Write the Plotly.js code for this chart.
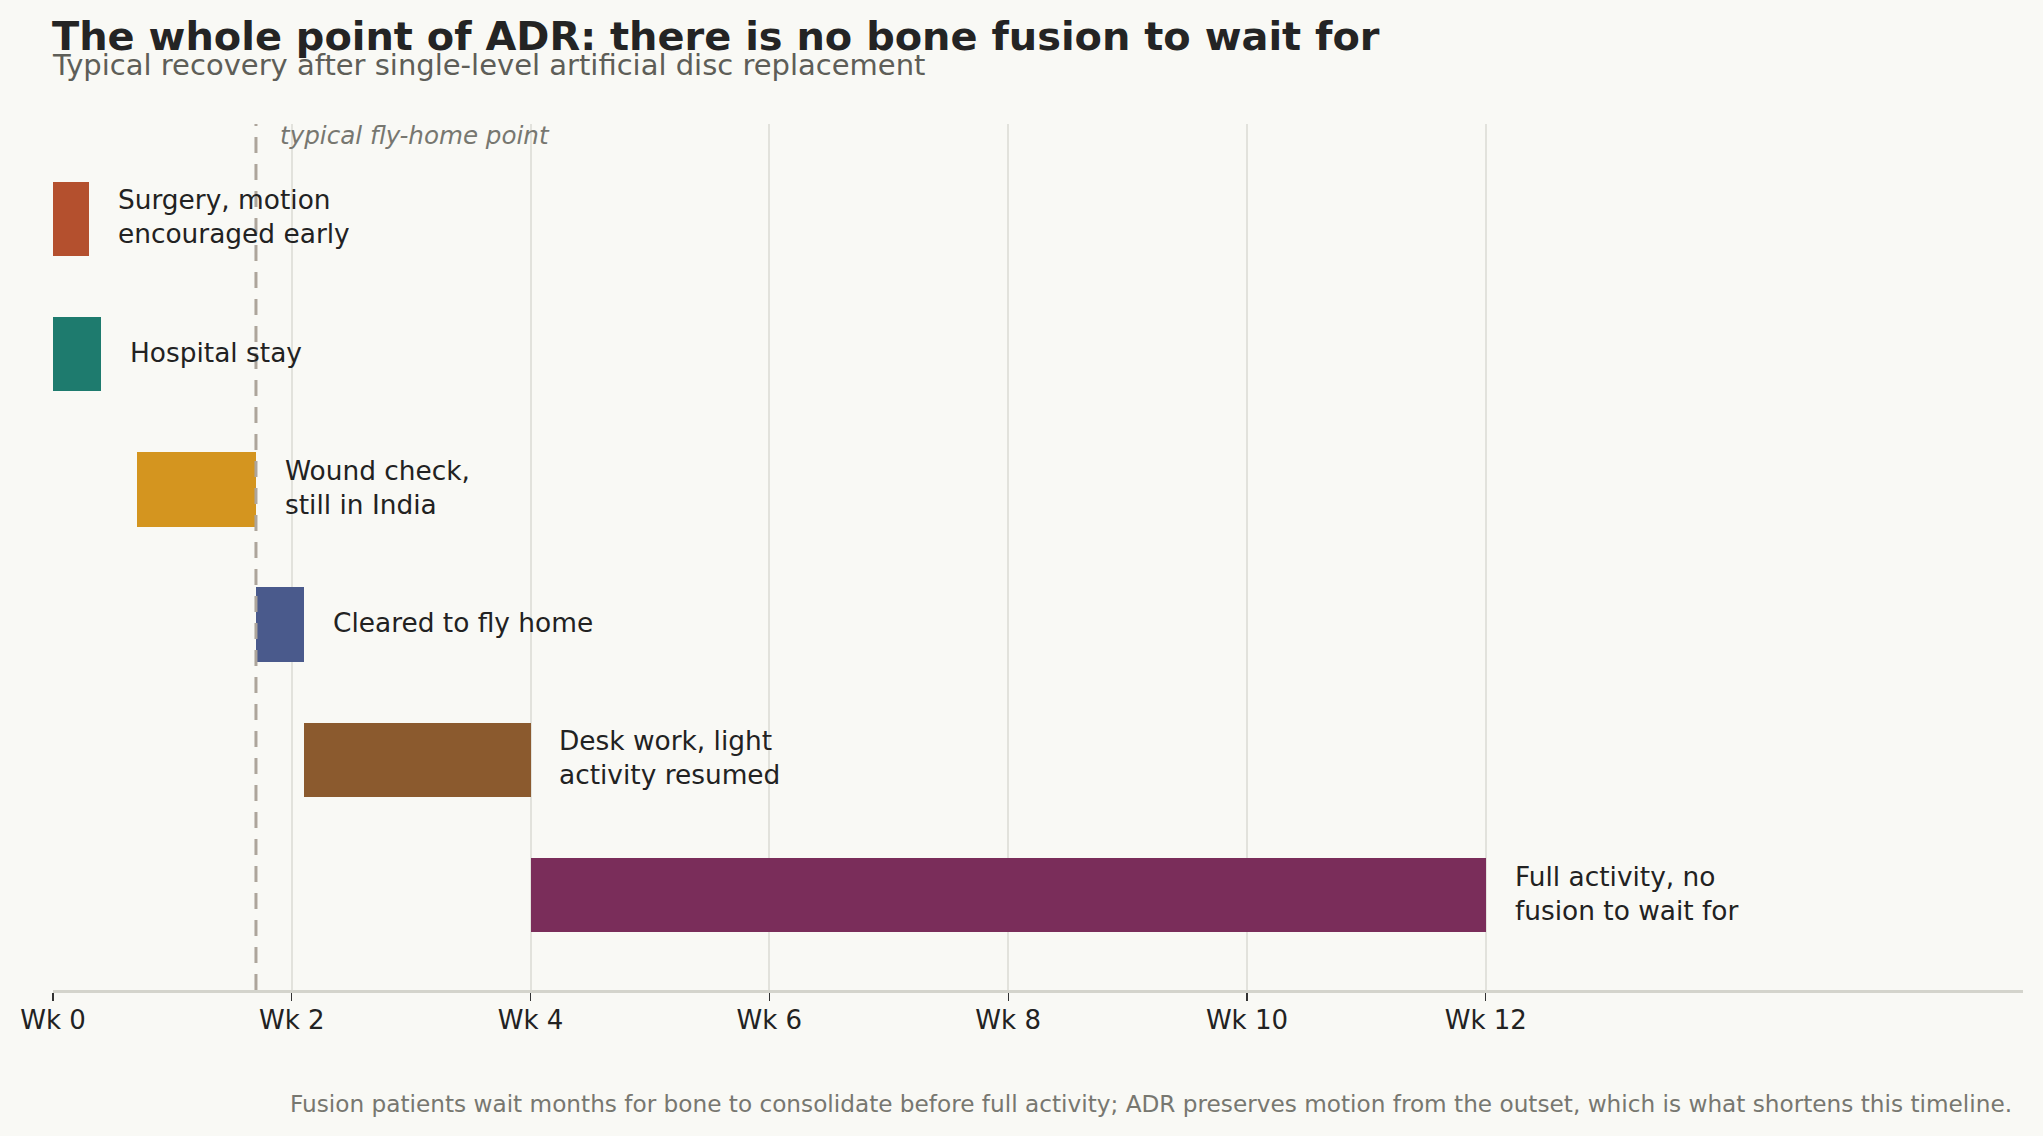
<!DOCTYPE html>
<html>
<head>
<meta charset="utf-8">
<script src="https://cdn.plot.ly/plotly-3.0.1.min.js"></script>
<style>
  html, body { margin: 0; padding: 0; background: #f9f9f5; }
  #chart { width: 2043px; height: 1136px; }
</style>
</head>
<body>
<div id="chart"></div>
<script>
// ---- data ----
const phases = [
  "Surgery, motion<br>encouraged early",
  "Hospital stay",
  "Wound check,<br>still in India",
  "Cleared to fly home",
  "Desk work, light<br>activity resumed",
  "Full activity, no<br>fusion to wait for"
];
const startWeek = [0, 0, 0.7, 1.7, 2.1, 4.0];
const endWeek   = [0.3, 0.4, 1.7, 2.1, 4.0, 12.0];
const barColors = ["#b4502e", "#1e7b6e", "#d4951f", "#4a5a8c", "#8b5a2e", "#7a2d5a"];
const tickWeeks = [0, 2, 4, 6, 8, 10, 12];
const tickLabels = ["Wk 0", "Wk 2", "Wk 4", "Wk 6", "Wk 8", "Wk 10", "Wk 12"];
const flyHomeWeek = 1.7;

const FONT = "DejaVu Sans";
const idx = phases.map((_, i) => i);

const trace = {
  type: "bar",
  orientation: "h",
  y: idx,
  x: endWeek.map((e, i) => e - startWeek[i]),
  base: startWeek,
  width: 0.55,
  marker: { color: barColors, line: { width: 0 } },
  hoverinfo: "skip",
  showlegend: false
};

const labelAnns = phases.map((p, i) => ({
  x: endWeek[i] + 0.25, y: i, xref: "x", yref: "y", xshift: -3, yshift: 2,
  text: p, showarrow: false, xanchor: "left", yanchor: "middle", align: "left",
  font: { family: FONT, size: 26.4, color: "#222222" }
}));

const layout = {
  width: 2043, height: 1136,
  paper_bgcolor: "#f9f9f5", plot_bgcolor: "#f9f9f5",
  margin: { l: 52.5, r: 20, t: 124, b: 146 },
  showlegend: false,
  bargap: 0,
  xaxis: {
    range: [0, 16.5],
    tickvals: tickWeeks, ticktext: tickLabels,
    showgrid: true, gridcolor: "#e2e2dc", gridwidth: 2,
    zeroline: false,
    showline: true, linecolor: "#d4d4cc", linewidth: 2.5,
    ticks: "outside", ticklen: 8, tickwidth: 1.3, tickcolor: "#333333",
    ticklabelstandoff: -3,
    tickfont: { family: FONT, size: 26, color: "#222222" },
    fixedrange: true
  },
  yaxis: {
    range: [5.7, -0.7],
    showgrid: false, zeroline: false, showline: false,
    showticklabels: false, ticks: "",
    fixedrange: true
  },
  shapes: [{
    type: "line", xref: "x", yref: "paper",
    x0: flyHomeWeek, x1: flyHomeWeek, y0: 0, y1: 1,
    line: { color: "#ada59b", width: 3, dash: "16px,11px" },
    layer: "above"
  }],
  annotations: labelAnns.concat([
    {
      x: flyHomeWeek + 0.2, y: 0.987, xref: "x", yref: "paper", xshift: -2,
      text: "<i>typical fly-home point</i>", showarrow: false,
      xanchor: "left", yanchor: "middle",
      font: { family: FONT, size: 24.6, color: "#777770" }
    },
    {
      x: 0, y: 1.1005, xref: "paper", yref: "paper", xshift: -3, yshift: 1,
      text: "<b>The whole point of ADR: there is no bone fusion to wait for</b>",
      showarrow: false, xanchor: "left", yanchor: "middle",
      font: { family: FONT, size: 39.9, color: "#242424" }
    },
    {
      x: 0, y: 1.067, xref: "paper", yref: "paper", xshift: -3, yshift: 1,
      text: "Typical recovery after single-level artificial disc replacement",
      showarrow: false, xanchor: "left", yanchor: "middle",
      font: { family: FONT, size: 29, color: "#5e5e58" }
    },
    {
      x: 0.9954, y: -0.127, xref: "paper", yref: "paper", yshift: -4,
      text: "Fusion patients wait months for bone to consolidate before full activity; ADR preserves motion from the outset, which is what shortens this timeline.",
      showarrow: false, xanchor: "right", yanchor: "middle",
      font: { family: FONT, size: 23.2, color: "#777770" }
    }
  ])
};

Plotly.newPlot("chart", [trace], layout, { displayModeBar: false, staticPlot: true });
</script>
</body>
</html>
